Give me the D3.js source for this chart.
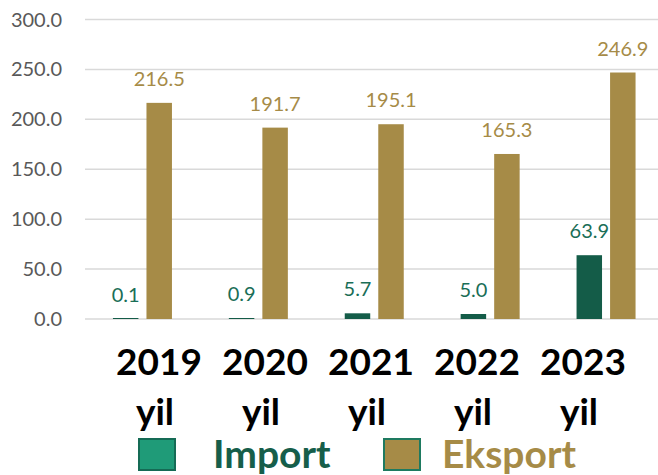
<!DOCTYPE html>
<html>
<head>
<meta charset="utf-8">
<script src="https://cdn.jsdelivr.net/npm/d3@7"></script>
<style>
  body { margin: 0; background: #fff; }
  svg { display: block; font-family: Lato, "Open Sans", sans-serif; }
</style>
</head>
<body>
<div id="chart"></div>
<script>
const years = ["2019", "2020", "2021", "2022", "2023"];
const series = ["Import", "Eksport"];
const importValues = [0.1, 0.9, 5.7, 5.0, 63.9];
const eksportValues = [216.5, 191.7, 195.1, 165.3, 246.9];
const yTicks = [0, 50, 100, 150, 200, 250, 300];

const width = 658, height = 475;

const svg = d3.select("#chart").append("svg")
    .attr("width", width)
    .attr("height", height);

const y = d3.scaleLinear().domain([0, 300]).range([319, 19.5]);
const x0 = d3.scaleBand().domain(years).range([84.5, 664]).padding(0);
const x1 = d3.scaleBand().domain(series).range([0, 59]).paddingInner(0.24);
// category labels sit on their own spacing in the original
const xLabel = d3.scalePoint().domain(years).range([159, 583]);

const colors = { Import: "#145C48", Eksport: "#A68B47" };
const labelColors = { Import: "#1A6E57", Eksport: "#A68B47" };

// gridlines
svg.append("g")
    .selectAll("line")
    .data(yTicks)
    .join("line")
    .attr("x1", 85)
    .attr("x2", width)
    .attr("y1", d => y(d))
    .attr("y2", d => y(d))
    .attr("stroke", "#d9d9d9")
    .attr("stroke-width", 1.5);

// y tick labels
svg.append("g")
    .selectAll("text")
    .data(yTicks)
    .join("text")
    .attr("x", 62)
    .attr("y", d => y(d) + 7)
    .attr("text-anchor", "end")
    .attr("fill", "#595959")
    .style("font-size", "20px")
    .text(d => d3.format(".1f")(d));

const rows = years.map((yr, i) => ({
    year: yr,
    values: [
        { key: "Import", value: importValues[i] },
        { key: "Eksport", value: eksportValues[i] }
    ]
}));

const groups = svg.append("g")
    .selectAll("g")
    .data(rows)
    .join("g")
    .attr("transform", d => `translate(${x0(d.year) + x0.bandwidth() / 2 - 29.5},0)`);

groups.selectAll("rect")
    .data(d => d.values)
    .join("rect")
    .attr("x", d => x1(d.key))
    .attr("width", x1.bandwidth())
    .attr("y", d => Math.min(y(d.value), y(0) - 1))
    .attr("height", d => Math.max(1, y(0) - y(d.value)))
    .attr("fill", d => colors[d.key]);

groups.selectAll("text")
    .data(d => d.values)
    .join("text")
    .attr("x", d => x1(d.key) + x1.bandwidth() / 2)
    .attr("y", d => y(d.value) - 17)
    .attr("text-anchor", "middle")
    .attr("fill", d => labelColors[d.key])
    .style("font-size", "20px")
    .text(d => d3.format(".1f")(d.value));

// category labels
const cat = svg.append("g")
    .selectAll("g")
    .data(years)
    .join("g")
    .attr("transform", d => `translate(${xLabel(d)},0)`);

cat.append("text")
    .attr("y", 375)
    .attr("text-anchor", "middle")
    .attr("fill", "#000")
    .style("font-size", "37px")
    .style("font-weight", "bold")
    .text(d => d);

cat.append("text")
    .attr("x", -4)
    .attr("y", 425)
    .attr("text-anchor", "middle")
    .attr("fill", "#000")
    .style("font-size", "37px")
    .style("font-weight", "bold")
    .text("yil");

// legend
const legendItems = [
    { key: "Import", x: 139, fill: "#1F9B78", stroke: "#156B55", text: "#165E4A" },
    { key: "Eksport", x: 384, fill: "#A68B47", stroke: "#1E7A60", text: "#A68B47" }
];

const legend = svg.append("g")
    .selectAll("g")
    .data(legendItems)
    .join("g")
    .attr("transform", d => `translate(${d.x},0)`);

legend.append("rect")
    .attr("x", 0)
    .attr("y", 439)
    .attr("width", 36)
    .attr("height", 31)
    .attr("fill", d => d.fill)
    .attr("stroke", d => d.stroke)
    .attr("stroke-width", 2);

legend.append("text")
    .attr("x", d => d.key === "Import" ? 74 : 58)
    .attr("y", 468)
    .attr("fill", d => d.text)
    .style("font-size", "39px")
    .style("font-weight", "bold")
    .text(d => d.key);
</script>
</body>
</html>
